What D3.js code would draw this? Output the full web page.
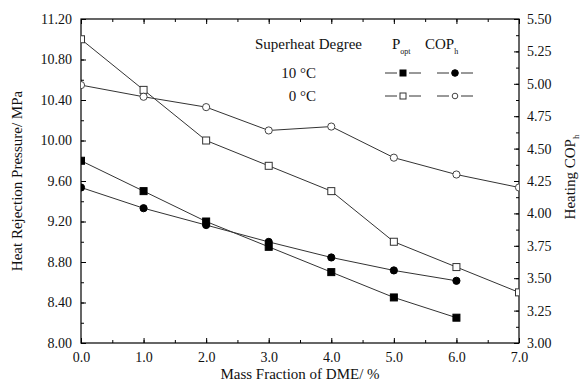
<!DOCTYPE html>
<html>
<head>
<meta charset="utf-8">
<script src="https://cdn.jsdelivr.net/npm/d3@7"></script>
<style>
  html, body { margin: 0; padding: 0; background: #fff; }
  svg text { font-family: "Liberation Serif", "Times New Roman", Times, serif !important; }
</style>
</head>
<body>
<svg id="chart" width="583" height="383"></svg>
<script>
// ---- data ----
const massFraction0 = [0, 1, 2, 3, 4, 5, 6, 7];
const massFraction10 = [0, 1, 2, 3, 4, 5, 6];
const pOpt10 = [9.80, 9.50, 9.20, 8.95, 8.70, 8.45, 8.25];
const pOpt0 = [11.00, 10.50, 10.00, 9.75, 9.50, 9.00, 8.75, 8.50];
const cop10 = [4.20, 4.04, 3.91, 3.78, 3.66, 3.56, 3.48];
const cop0 = [4.99, 4.90, 4.82, 4.64, 4.67, 4.43, 4.30, 4.20];
const xTicks = [0, 1, 2, 3, 4, 5, 6, 7];
const leftTicks = [8.0, 8.4, 8.8, 9.2, 9.6, 10.0, 10.4, 10.8, 11.2];
const rightTicks = [3.0, 3.25, 3.5, 3.75, 4.0, 4.25, 4.5, 4.75, 5.0, 5.25, 5.5];
const superheatLabels = ["10 °C", "0 °C"];

// ---- layout ----
const L = 81, R = 519, T = 19, B = 343;
const FONT = '"Liberation Serif", "Times New Roman", Times, serif';
const svg = d3.select("#chart");

const x = d3.scaleLinear().domain([0, 7]).range([L, R]);
const yL = d3.scaleLinear().domain([8.0, 11.2]).range([B, T]);
const yR = d3.scaleLinear().domain([3.0, 5.5]).range([B, T]);

const tickFont = 14;

svg.append("defs").append("clipPath").attr("id", "plotclip")
  .append("rect").attr("x", L).attr("y", T).attr("width", R - L).attr("height", B - T);

function minorTicks(scale, step) {
  const [a, b] = scale.domain();
  const out = [];
  for (let v = a; v <= b + 1e-9; v += step) out.push(+v.toFixed(4));
  return out;
}

svg.append("g").attr("transform", `translate(0,${B})`)
  .call(d3.axisBottom(x).tickValues(xTicks).tickFormat(d3.format(".1f")).tickSizeInner(-5).tickSizeOuter(0).tickPadding(9));
svg.append("g").attr("transform", `translate(0,${B})`)
  .call(d3.axisBottom(x).tickValues(minorTicks(x, 0.5)).tickFormat("").tickSizeInner(-3).tickSizeOuter(0));
svg.append("g").attr("transform", `translate(0,${T})`)
  .call(d3.axisTop(x).tickValues(xTicks).tickFormat("").tickSizeInner(-5).tickSizeOuter(0));
svg.append("g").attr("transform", `translate(0,${T})`)
  .call(d3.axisTop(x).tickValues(minorTicks(x, 0.5)).tickFormat("").tickSizeInner(-3).tickSizeOuter(0));
svg.append("g").attr("transform", `translate(${L},0)`)
  .call(d3.axisLeft(yL).tickValues(leftTicks).tickFormat(d3.format(".2f")).tickSizeInner(-5).tickSizeOuter(0).tickPadding(9));
svg.append("g").attr("transform", `translate(${L},0)`)
  .call(d3.axisLeft(yL).tickValues(minorTicks(yL, 0.2)).tickFormat("").tickSizeInner(-3).tickSizeOuter(0));
svg.append("g").attr("transform", `translate(${R},0)`)
  .call(d3.axisRight(yR).tickValues(rightTicks).tickFormat(d3.format(".2f")).tickSizeInner(-5).tickSizeOuter(0).tickPadding(8));
svg.append("g").attr("transform", `translate(${R},0)`)
  .call(d3.axisRight(yR).tickValues(minorTicks(yR, 0.125)).tickFormat("").tickSizeInner(-3).tickSizeOuter(0));

svg.selectAll("g").attr("font-family", FONT);
svg.selectAll(".domain").remove();
svg.selectAll(".tick line").attr("stroke", "#000").attr("stroke-width", 1);
svg.selectAll(".tick text").attr("font-size", tickFont).attr("fill", "#111").attr("font-family", FONT);

svg.append("rect").attr("x", L).attr("y", T).attr("width", R - L).attr("height", B - T)
  .attr("fill", "none").attr("stroke", "#000").attr("stroke-width", 1.2);

// ---- series ----
const plot = svg.append("g").attr("clip-path", "url(#plotclip)");
const lineColor = "#333";

function drawSeries(xs, ys, yScale, shape, filled) {
  const pts = xs.map((d, i) => [x(d), yScale(ys[i])]);
  plot.append("path").attr("d", d3.line()(pts)).attr("fill", "none")
    .attr("stroke", lineColor).attr("stroke-width", 1);
  const g = plot.append("g");
  if (shape === "square") {
    g.selectAll("rect").data(pts).join("rect")
      .attr("x", d => d[0] - 3.5).attr("y", d => d[1] - 3.5)
      .attr("width", 7).attr("height", 7)
      .attr("fill", filled ? "#000" : "#fff").attr("stroke", filled ? "#000" : "#333").attr("stroke-width", 1);
  } else {
    g.selectAll("circle").data(pts).join("circle")
      .attr("cx", d => d[0]).attr("cy", d => d[1]).attr("r", 3.6)
      .attr("fill", filled ? "#000" : "#fff").attr("stroke", filled ? "#000" : "#444").attr("stroke-width", 1);
  }
}

drawSeries(massFraction0, pOpt0, yL, "square", false);
drawSeries(massFraction0, cop0, yR, "circle", false);
drawSeries(massFraction10, pOpt10, yL, "square", true);
drawSeries(massFraction10, cop10, yR, "circle", true);

// ---- axis titles ----
const titleFont = 15;
svg.append("text").attr("x", (L + R) / 2).attr("y", 379).attr("text-anchor", "middle")
  .attr("font-family", FONT).attr("font-size", titleFont).attr("fill", "#111").text("Mass Fraction of DME/ %");

svg.append("text").attr("transform", `translate(22,${(T + B) / 2}) rotate(-90)`)
  .attr("text-anchor", "middle").attr("font-family", FONT).attr("font-size", titleFont).attr("fill", "#111")
  .text("Heat Rejection Pressure/ MPa");

const rt = svg.append("text").attr("transform", `translate(575,${(T + B) / 2 - 4}) rotate(-90)`)
  .attr("text-anchor", "middle").attr("font-family", FONT).attr("font-size", titleFont).attr("fill", "#111");
rt.append("tspan").text("Heating COP");
rt.append("tspan").attr("font-size", 9).attr("dy", 4).text("h");

// ---- legend ----
const lg = svg.append("g").attr("font-family", FONT).attr("font-size", titleFont).attr("fill", "#111");
lg.append("text").attr("x", 255).attr("y", 49).text("Superheat Degree");
const lp = lg.append("text").attr("x", 392).attr("y", 49);
lp.append("tspan").text("P");
lp.append("tspan").attr("font-size", 8).attr("dy", 5).text("opt");
const lc = lg.append("text").attr("x", 425).attr("y", 49);
lc.append("tspan").text("COP");
lc.append("tspan").attr("font-size", 8).attr("dy", 5).text("h");

const rowY = [73, 96];
superheatLabels.forEach((lab, i) => {
  lg.append("text").attr("x", 316).attr("y", rowY[i] + 5).attr("text-anchor", "end").text(lab);
});

function legendSym(cx, cy, shape, filled) {
  lg.append("line").attr("x1", cx - 18).attr("x2", cx - 6).attr("y1", cy).attr("y2", cy)
    .attr("stroke", lineColor).attr("stroke-width", 1);
  lg.append("line").attr("x1", cx + 6).attr("x2", cx + 18).attr("y1", cy).attr("y2", cy)
    .attr("stroke", lineColor).attr("stroke-width", 1);
  if (shape === "square") {
    lg.append("rect").attr("x", cx - 3).attr("y", cy - 3).attr("width", 6).attr("height", 6)
      .attr("fill", filled ? "#000" : "#fff").attr("stroke", filled ? "#000" : "#333");
  } else {
    lg.append("circle").attr("cx", cx).attr("cy", cy).attr("r", filled ? 3.3 : 2.8)
      .attr("fill", filled ? "#000" : "#fff").attr("stroke", filled ? "#000" : "#444");
  }
}
legendSym(403, rowY[0], "square", true);
legendSym(455, rowY[0], "circle", true);
legendSym(403, rowY[1], "square", false);
legendSym(455, rowY[1], "circle", false);
</script>
</body>
</html>
